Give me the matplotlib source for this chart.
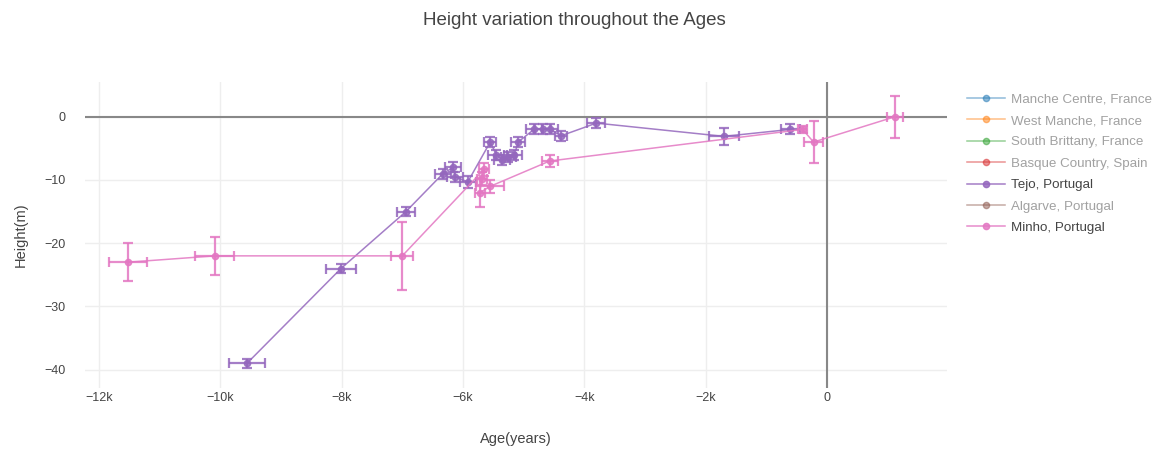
import matplotlib.pyplot as plt
from matplotlib.ticker import FuncFormatter, MultipleLocator

plt.rcParams['font.family'] = ['Liberation Sans', 'DejaVu Sans']

# Tejo, Portugal
tejo_age = [-9560, -8010, -6940, -6330, -6160, -6130, -5920, -5550, -5450, -5350,
            -5250, -5150, -5090, -4830, -4680, -4570, -4380, -3800, -1700, -600]
tejo_height = [-39, -24, -15, -9, -8, -9.5, -10.3, -4, -6, -6.8,
               -6.3, -6, -4, -2, -2, -2, -3, -1, -3.1, -2]
tejo_age_err = [300, 250, 150, 130, 130, 130, 130, 100, 130, 130,
                130, 130, 120, 130, 130, 130, 100, 150, 250, 150]
tejo_height_err = [0.7, 0.7, 0.7, 0.8, 0.8, 0.8, 1.0, 0.8, 0.8, 0.8,
                   0.8, 0.8, 0.8, 0.8, 0.8, 0.8, 0.8, 0.8, 1.4, 0.8]

# Minho, Portugal
minho_age = [-11520, -10090, -7000, -5650, -5690, -5720, -5550, -4570, -400, -220, 1120]
minho_height = [-23, -22, -22, -8.3, -9.8, -12, -11, -7, -2, -4, 0]
minho_age_err = [320, 320, 180, 80, 80, 80, 230, 130, 80, 160, 130]
minho_height_err = [3, 3, 5.4, 1, 1, 2.3, 1, 0.9, 0.5, 3.3, 3.3]

regions = ['Manche Centre, France', 'West Manche, France', 'South Brittany, France',
           'Basque Country, Spain', 'Tejo, Portugal', 'Algarve, Portugal', 'Minho, Portugal']
colors = ['#1f77b4', '#ff7f0e', '#2ca02c', '#d62728', '#9467bd', '#8c564b', '#e377c2']
shown = {'Tejo, Portugal': (tejo_age, tejo_height, tejo_age_err, tejo_height_err),
         'Minho, Portugal': (minho_age, minho_height, minho_age_err, minho_height_err)}

fig = plt.figure(figsize=(11.56, 4.5), dpi=100)
ax = fig.add_axes([85 / 1156, 62 / 450, 862 / 1156, 306 / 450])

ax.axhline(0, color='#888888', lw=1.5, zorder=1)
ax.axvline(0, color='#888888', lw=1.5, zorder=1)

handles = []
for name, col in zip(regions, colors):
    if name in shown:
        xs, ys, xe, ye = shown[name]
        ax.errorbar(xs, ys, xerr=xe, yerr=ye, color=col, lw=1.1, alpha=0.85,
                    marker='o', ms=4.5, elinewidth=1.6, capsize=3.5, capthick=1.6,
                    zorder=3)
        h, = ax.plot([], [], color=col, lw=1.1, marker='o', ms=4.5, alpha=0.85, label=name)
    else:
        h, = ax.plot([], [], color=col, lw=1.1, marker='o', ms=4.5, alpha=0.5, label=name)
    handles.append(h)

ax.set_xlim(-12230, 1980)
ax.set_ylim(-42.9, 5.5)
ax.xaxis.set_major_locator(MultipleLocator(2000))
ax.yaxis.set_major_locator(MultipleLocator(10))
ax.xaxis.set_major_formatter(FuncFormatter(
    lambda v, p: '0' if v == 0 else f'{v / 1000:g}k'.replace('-', '\u2212')))
ax.yaxis.set_major_formatter(FuncFormatter(
    lambda v, p: f'{v:g}'.replace('-', '\u2212')))
ax.grid(True, color='#eeeeee', lw=1)
ax.set_axisbelow(True)
for s in ax.spines.values():
    s.set_visible(False)
ax.tick_params(length=0, colors='#444444', labelsize=9)
ax.tick_params(axis='x', pad=3)
ax.tick_params(axis='y', pad=14)

ax.set_xlabel('Age(years)', fontsize=10.5, color='#444444', labelpad=20)
ax.set_ylabel('Height(m)', fontsize=10.5, color='#444444', labelpad=12)
fig.suptitle('Height variation throughout the Ages', fontsize=13.5, color='#444444',
             x=0.497, y=0.974)

leg = fig.legend(handles=handles, loc='upper left', bbox_to_anchor=(962 / 1156, 1 - 88 / 450),
                 frameon=False, fontsize=9.6, handlelength=2.8, labelspacing=0.68,
                 borderaxespad=0, handletextpad=0.45)
for txt, name in zip(leg.get_texts(), regions):
    txt.set_color('#444444')
    if name not in shown:
        txt.set_alpha(0.5)

fig.savefig('out.png', dpi=100)
